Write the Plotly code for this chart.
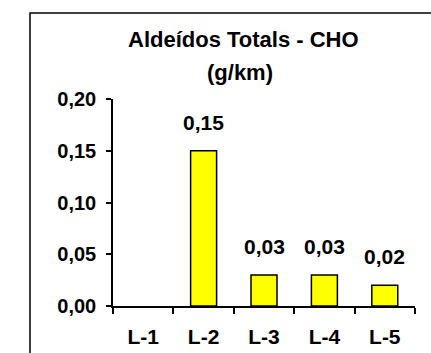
import plotly.graph_objects as go

categories = ["L-1", "L-2", "L-3", "L-4", "L-5"]
values = [None, 0.15, 0.03, 0.03, 0.02]
y_ticks = [0.00, 0.05, 0.10, 0.15, 0.20]

W, H = 431, 353
L, R, T, B = 113, 16, 99, 47
pw, ph = W - L - R, H - T - B

def px_x(x):
    return (x - L) / pw

def px_y(y):
    return (H - B - y) / ph

FONT = "Liberation Sans, Arial, sans-serif"

def fmt(v):
    return f"{v:.2f}".replace(".", ",")

fig = go.Figure(
    go.Bar(
        x=categories,
        y=values,
        width=0.43,
        marker=dict(color="#FFFF00", line=dict(color="#000000", width=1.5)),
        hoverinfo="skip",
    )
)

annotations = []
for c, v in zip(categories, values):
    if v is None:
        continue
    annotations.append(dict(
        x=c, y=v, xref="x", yref="y", text=fmt(v), showarrow=False,
        yanchor="bottom", yshift=15,
        font=dict(family=FONT, size=21, color="#000000", weight="bold"),
    ))

annotations.append(dict(
    x=px_x(243), y=px_y(39), xref="paper", yref="paper",
    text="Aldeídos Totals - CHO", showarrow=False,
    xanchor="center", yanchor="middle",
    font=dict(family=FONT, size=22, color="#000000", weight="bold"),
))
annotations.append(dict(
    x=px_x(240), y=px_y(72), xref="paper", yref="paper",
    text="(g/km)", showarrow=False,
    xanchor="center", yanchor="middle",
    font=dict(family=FONT, size=22, color="#000000", weight="bold"),
))

fig.update_layout(
    width=W, height=H,
    margin=dict(l=L, r=R, t=T, b=B, pad=0, autoexpand=False),
    paper_bgcolor="white", plot_bgcolor="white",
    separators=",.",
    showlegend=False,
    annotations=annotations,
    shapes=[dict(
        type="rect", xref="paper", yref="paper",
        x0=px_x(30), x1=px_x(445), y0=px_y(370), y1=px_y(13),
        line=dict(color="#000000", width=1.5), fillcolor="rgba(0,0,0,0)",
        layer="below",
    )],
    xaxis=dict(
        range=[-0.5, 4.5], showgrid=False, zeroline=False, automargin=False,
        showline=True, linecolor="#000000", linewidth=1.5,
        ticks="outside", tickson="boundaries", ticklen=6, tickwidth=1.5, tickcolor="#000000",
        ticklabelstandoff=11,
        tickfont=dict(family=FONT, size=21, color="#000000", weight="bold"),
        fixedrange=True,
    ),
    yaxis=dict(
        range=[0, 0.20], tickvals=y_ticks, ticktext=[fmt(v) for v in y_ticks],
        showgrid=False, zeroline=False, automargin=False,
        showline=True, linecolor="#000000", linewidth=1.5,
        ticks="outside", ticklen=5, tickwidth=1.5, tickcolor="#000000",
        ticklabelstandoff=6,
        tickfont=dict(family=FONT, size=20, color="#000000", weight="bold"),
        fixedrange=True,
    ),
)

fig.write_html("out.html")
